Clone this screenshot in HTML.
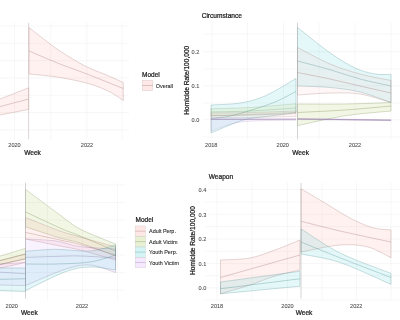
<!DOCTYPE html>
<html><head><meta charset="utf-8"><style>
html,body{margin:0;padding:0;background:#fff;width:400px;height:320px;overflow:hidden}
svg{display:block;font-family:"Liberation Sans",sans-serif}
</style></head><body>
<svg width="400" height="320" viewBox="0 0 400 320">
<rect width="400" height="320" fill="#fff"/>
<g style="filter:blur(0.25px)">
<line x1="0" y1="26" x2="129" y2="26" stroke="#EFEFEF" stroke-width="0.5"/>
<line x1="0" y1="43.3" x2="129" y2="43.3" stroke="#EFEFEF" stroke-width="0.5"/>
<line x1="0" y1="60.6" x2="129" y2="60.6" stroke="#EFEFEF" stroke-width="0.5"/>
<line x1="0" y1="77.9" x2="129" y2="77.9" stroke="#EFEFEF" stroke-width="0.5"/>
<line x1="0" y1="95.3" x2="129" y2="95.3" stroke="#EFEFEF" stroke-width="0.5"/>
<line x1="0" y1="112.6" x2="129" y2="112.6" stroke="#EFEFEF" stroke-width="0.5"/>
<line x1="0" y1="129.9" x2="129" y2="129.9" stroke="#EFEFEF" stroke-width="0.5"/>
<line x1="14.5" y1="22.5" x2="14.5" y2="139.5" stroke="#EFEFEF" stroke-width="0.5"/>
<line x1="50.75" y1="22.5" x2="50.75" y2="139.5" stroke="#EFEFEF" stroke-width="0.5"/>
<line x1="86.8" y1="22.5" x2="86.8" y2="139.5" stroke="#EFEFEF" stroke-width="0.5"/>
<line x1="122" y1="22.5" x2="122" y2="139.5" stroke="#EFEFEF" stroke-width="0.5"/>
<path d="M-2.00,99.80 L28.70,87.80 L28.70,109.40 L-2.00,115.40 Z" fill="#F8766D" fill-opacity="0.1" stroke="#a57774" stroke-opacity="0.45" stroke-width="0.65" stroke-linejoin="round"/>
<path d="M-2.00,107.10 L28.70,99.00" fill="none" stroke="#a57774" stroke-opacity="0.55" stroke-width="0.65"/>
<path d="M29.00,27.50 C31.67,29.58 39.83,36.08 45.00,40.00 C50.17,43.92 53.33,46.67 60.00,51.00 C66.67,55.33 77.00,61.90 85.00,66.00 C93.00,70.10 101.62,72.83 108.00,75.60 C114.38,78.37 120.75,81.43 123.30,82.60 L123.30,100.60 C121.08,99.17 115.55,94.77 110.00,92.00 C104.45,89.23 98.33,86.42 90.00,84.00 C81.67,81.58 70.17,79.17 60.00,77.50 C49.83,75.83 34.17,74.58 29.00,74.00 Z" fill="#F8766D" fill-opacity="0.1" stroke="#a57774" stroke-opacity="0.45" stroke-width="0.65" stroke-linejoin="round"/>
<path d="M29.00,51.00 C34.17,53.17 50.67,60.28 60.00,64.00 C69.33,67.72 74.45,69.22 85.00,73.30 C95.55,77.38 116.92,85.97 123.30,88.50" fill="none" stroke="#a57774" stroke-opacity="0.55" stroke-width="0.65"/>
<line x1="28.6" y1="22.8" x2="28.6" y2="139.2" stroke="#c4b2b2" stroke-width="0.55"/>
<text x="14.5" y="147" font-size="5.6" fill="#4D4D4D" stroke="#4D4D4D" stroke-width="0.08" text-anchor="middle" >2020</text>
<text x="87" y="147" font-size="5.6" fill="#4D4D4D" stroke="#4D4D4D" stroke-width="0.08" text-anchor="middle" >2022</text>
<text x="32.5" y="155" font-size="6.6" fill="#1a1a1a" stroke="#1a1a1a" stroke-width="0.22" text-anchor="middle" >Week</text>
<text x="142" y="77" font-size="6.5" fill="#1a1a1a" stroke="#1a1a1a" stroke-width="0.22" text-anchor="start" >Model</text>
<rect x="142.3" y="80.3" width="10.4" height="10.4" fill="#F8766D" fill-opacity="0.16" stroke="#d0c4c4" stroke-opacity="0.9" stroke-width="0.5"/>
<line x1="142.3" y1="85.5" x2="152.7" y2="85.5" stroke="#a57774" stroke-opacity="0.6" stroke-width="0.6"/>
<text x="155.8" y="88.3" font-size="5.45" fill="#2b2b2b" stroke="#2b2b2b" stroke-width="0.1" text-anchor="start" >Overall</text>
<line x1="203" y1="34" x2="400" y2="34" stroke="#EFEFEF" stroke-width="0.5"/>
<line x1="203" y1="51.7" x2="400" y2="51.7" stroke="#EFEFEF" stroke-width="0.5"/>
<line x1="203" y1="69" x2="400" y2="69" stroke="#EFEFEF" stroke-width="0.5"/>
<line x1="203" y1="85.8" x2="400" y2="85.8" stroke="#EFEFEF" stroke-width="0.5"/>
<line x1="203" y1="103" x2="400" y2="103" stroke="#EFEFEF" stroke-width="0.5"/>
<line x1="203" y1="119.7" x2="400" y2="119.7" stroke="#EFEFEF" stroke-width="0.5"/>
<line x1="203" y1="137" x2="400" y2="137" stroke="#EFEFEF" stroke-width="0.5"/>
<line x1="212" y1="22.5" x2="212" y2="139.5" stroke="#EFEFEF" stroke-width="0.5"/>
<line x1="247.5" y1="22.5" x2="247.5" y2="139.5" stroke="#EFEFEF" stroke-width="0.5"/>
<line x1="283.5" y1="22.5" x2="283.5" y2="139.5" stroke="#EFEFEF" stroke-width="0.5"/>
<line x1="319" y1="22.5" x2="319" y2="139.5" stroke="#EFEFEF" stroke-width="0.5"/>
<line x1="355" y1="22.5" x2="355" y2="139.5" stroke="#EFEFEF" stroke-width="0.5"/>
<line x1="391" y1="22.5" x2="391" y2="139.5" stroke="#EFEFEF" stroke-width="0.5"/>
<path d="M211.00,105.00 C215.83,104.67 231.00,104.50 240.00,103.00 C249.00,101.50 255.67,100.08 265.00,96.00 C274.33,91.92 290.83,81.42 296.00,78.50 L296.00,112.50 C292.50,113.00 283.08,114.42 275.00,115.50 C266.92,116.58 255.00,117.42 247.50,119.00 C240.00,120.58 236.08,122.67 230.00,125.00 C223.92,127.33 214.17,131.67 211.00,133.00 Z" fill="#00BFC4" fill-opacity="0.1" stroke="#4e9193" stroke-opacity="0.45" stroke-width="0.65" stroke-linejoin="round"/>
<path d="M211.00,118.70 C214.17,118.25 223.50,117.37 230.00,116.00 C236.50,114.63 242.50,112.83 250.00,110.50 C257.50,108.17 267.33,105.17 275.00,102.00 C282.67,98.83 292.50,93.25 296.00,91.50" fill="none" stroke="#4e9193" stroke-opacity="0.55" stroke-width="0.65"/>
<path d="M211.00,108.75 C217.50,108.54 235.83,108.33 250.00,107.50 C264.17,106.67 288.33,104.38 296.00,103.75 L296.00,112.50 C288.33,112.83 264.17,113.92 250.00,114.50 C235.83,115.08 217.50,115.75 211.00,116.00 Z" fill="#7CAE00" fill-opacity="0.08" stroke="#798b4e" stroke-opacity="0.32" stroke-width="0.65" stroke-linejoin="round"/>
<path d="M211.00,112.00 C217.50,111.83 235.83,111.67 250.00,111.00 C264.17,110.33 288.33,108.50 296.00,108.00" fill="none" stroke="#798b4e" stroke-opacity="0.4" stroke-width="0.65"/>
<path d="M211.00,113.00 C217.50,112.92 235.83,112.83 250.00,112.50 C264.17,112.17 288.33,111.25 296.00,111.00 L296.00,116.50 C288.33,116.67 264.17,117.25 250.00,117.50 C235.83,117.75 217.50,117.92 211.00,118.00 Z" fill="#F8766D" fill-opacity="0.08" stroke="#a57774" stroke-opacity="0.32" stroke-width="0.65" stroke-linejoin="round"/>
<path d="M211.00,115.50 C217.50,115.42 235.83,115.33 250.00,115.00 C264.17,114.67 288.33,113.75 296.00,113.50" fill="none" stroke="#a57774" stroke-opacity="0.4" stroke-width="0.65"/>
<path d="M211.00,118.00 C217.50,118.10 235.83,118.50 250.00,118.60 C264.17,118.70 288.33,118.60 296.00,118.60 L296.00,120.20 C290.00,120.30 270.17,120.33 260.00,120.80 C249.83,121.27 243.17,121.30 235.00,123.00 C226.83,124.70 215.00,129.67 211.00,131.00 Z" fill="#C77CFF" fill-opacity="0.1" stroke="#9479a7" stroke-opacity="0.25" stroke-width="0.7" stroke-linejoin="round"/>
<path d="M211.00,119.50 L296.00,119.30" fill="none" stroke="#9479a7" stroke-opacity="0.8" stroke-width="0.7"/>
<path d="M297.50,27.50 C302.92,31.72 320.42,46.05 330.00,52.80 C339.58,59.55 347.50,64.47 355.00,68.00 C362.50,71.53 369.00,72.93 375.00,74.00 C381.00,75.07 388.33,74.33 391.00,74.40 L391.00,102.50 C385.83,100.75 370.17,94.50 360.00,92.00 C349.83,89.50 340.42,88.50 330.00,87.50 C319.58,86.50 302.92,86.25 297.50,86.00 Z" fill="#00BFC4" fill-opacity="0.1" stroke="#4e9193" stroke-opacity="0.45" stroke-width="0.65" stroke-linejoin="round"/>
<path d="M297.50,61.00 C302.92,62.45 319.58,66.70 330.00,69.70 C340.42,72.70 349.83,76.28 360.00,79.00 C370.17,81.72 385.83,84.83 391.00,86.00" fill="none" stroke="#4e9193" stroke-opacity="0.55" stroke-width="0.65"/>
<path d="M297.50,47.50 C302.92,50.25 319.58,59.58 330.00,64.00 C340.42,68.42 349.83,71.25 360.00,74.00 C370.17,76.75 385.83,79.42 391.00,80.50 L391.00,102.50 C385.83,101.08 370.17,95.58 360.00,94.00 C349.83,92.42 340.42,92.83 330.00,93.00 C319.58,93.17 302.92,94.67 297.50,95.00 Z" fill="#F8766D" fill-opacity="0.055" stroke="#a57774" stroke-opacity="0.45" stroke-width="0.65" stroke-linejoin="round"/>
<path d="M297.50,72.50 C302.92,73.58 319.58,76.75 330.00,79.00 C340.42,81.25 349.83,83.67 360.00,86.00 C370.17,88.33 385.83,91.83 391.00,93.00" fill="none" stroke="#a57774" stroke-opacity="0.55" stroke-width="0.65"/>
<path d="M297.50,104.00 C305.42,104.00 329.42,104.25 345.00,104.00 C360.58,103.75 383.33,102.75 391.00,102.50 L391.00,111.00 C383.33,111.80 360.58,113.37 345.00,115.80 C329.42,118.23 305.42,123.97 297.50,125.60 Z" fill="#7CAE00" fill-opacity="0.1" stroke="#798b4e" stroke-opacity="0.45" stroke-width="0.65" stroke-linejoin="round"/>
<path d="M297.50,112.50 C305.42,112.08 329.42,111.08 345.00,110.00 C360.58,108.92 383.33,106.67 391.00,106.00" fill="none" stroke="#798b4e" stroke-opacity="0.55" stroke-width="0.65"/>
<path d="M297.50,118.60 L391.00,119.80 L391.00,120.60 L297.50,119.40 Z" fill="#C77CFF" fill-opacity="0.1" stroke="#9479a7" stroke-opacity="0.45" stroke-width="0.7" stroke-linejoin="round"/>
<path d="M297.50,119.00 L391.00,120.20" fill="none" stroke="#9479a7" stroke-opacity="0.8" stroke-width="0.7"/>
<line x1="297.5" y1="22.8" x2="297.5" y2="139.5" stroke="#b0b0b0" stroke-width="0.55"/>
<text x="221.8" y="18" font-size="6.6" fill="#1a1a1a" stroke="#1a1a1a" stroke-width="0.22" text-anchor="middle" >Circumstance</text>
<text x="195.5" y="54" font-size="5.6" fill="#4D4D4D" stroke="#4D4D4D" stroke-width="0.08" text-anchor="middle" >0.2</text>
<text x="195.5" y="87.8" font-size="5.6" fill="#4D4D4D" stroke="#4D4D4D" stroke-width="0.08" text-anchor="middle" >0.1</text>
<text x="195.5" y="122" font-size="5.6" fill="#4D4D4D" stroke="#4D4D4D" stroke-width="0.08" text-anchor="middle" >0.0</text>
<text x="211.25" y="147" font-size="5.6" fill="#4D4D4D" stroke="#4D4D4D" stroke-width="0.08" text-anchor="middle" >2018</text>
<text x="282.75" y="147" font-size="5.6" fill="#4D4D4D" stroke="#4D4D4D" stroke-width="0.08" text-anchor="middle" >2020</text>
<text x="355" y="147" font-size="5.6" fill="#4D4D4D" stroke="#4D4D4D" stroke-width="0.08" text-anchor="middle" >2022</text>
<text x="300.6" y="155" font-size="6.6" fill="#1a1a1a" stroke="#1a1a1a" stroke-width="0.22" text-anchor="middle" >Week</text>
<text x="0" y="0" font-size="6.6" fill="#1a1a1a" stroke="#1a1a1a" stroke-width="0.22" text-anchor="middle" transform="translate(189.1,80.2) rotate(-90)">Homicide Rate/100,000</text>
<line x1="0" y1="185" x2="125" y2="185" stroke="#EFEFEF" stroke-width="0.5"/>
<line x1="0" y1="202.5" x2="125" y2="202.5" stroke="#EFEFEF" stroke-width="0.5"/>
<line x1="0" y1="220" x2="125" y2="220" stroke="#EFEFEF" stroke-width="0.5"/>
<line x1="0" y1="237.5" x2="125" y2="237.5" stroke="#EFEFEF" stroke-width="0.5"/>
<line x1="0" y1="255" x2="125" y2="255" stroke="#EFEFEF" stroke-width="0.5"/>
<line x1="0" y1="272.5" x2="125" y2="272.5" stroke="#EFEFEF" stroke-width="0.5"/>
<line x1="0" y1="290" x2="125" y2="290" stroke="#EFEFEF" stroke-width="0.5"/>
<line x1="11.75" y1="182.5" x2="11.75" y2="300" stroke="#EFEFEF" stroke-width="0.5"/>
<line x1="47.5" y1="182.5" x2="47.5" y2="300" stroke="#EFEFEF" stroke-width="0.5"/>
<line x1="82.5" y1="182.5" x2="82.5" y2="300" stroke="#EFEFEF" stroke-width="0.5"/>
<line x1="117.5" y1="182.5" x2="117.5" y2="300" stroke="#EFEFEF" stroke-width="0.5"/>
<path d="M-2.00,256.70 L25.50,248.40 L25.50,258.75 L-2.00,264.90 Z" fill="#7CAE00" fill-opacity="0.1" stroke="#798b4e" stroke-opacity="0.45" stroke-width="0.65" stroke-linejoin="round"/>
<path d="M-2.00,261.10 L25.50,254.00" fill="none" stroke="#798b4e" stroke-opacity="0.55" stroke-width="0.65"/>
<path d="M-2.00,261.10 L25.50,254.00 L25.50,262.50 L-2.00,268.40 Z" fill="#F8766D" fill-opacity="0.1" stroke="#a57774" stroke-opacity="0.45" stroke-width="0.65" stroke-linejoin="round"/>
<path d="M-2.00,264.90 L25.50,258.75" fill="none" stroke="#a57774" stroke-opacity="0.55" stroke-width="0.65"/>
<path d="M-2.00,264.20 L25.50,262.50 L25.50,285.60 L-2.00,285.00 Z" fill="#C77CFF" fill-opacity="0.1" stroke="#9479a7" stroke-opacity="0.45" stroke-width="0.65" stroke-linejoin="round"/>
<path d="M-2.00,272.00 L25.50,273.75" fill="none" stroke="#9479a7" stroke-opacity="0.55" stroke-width="0.65"/>
<path d="M-2.00,268.00 L25.50,268.00 L25.50,291.50 L-2.00,290.60 Z" fill="#00BFC4" fill-opacity="0.1" stroke="#4e9193" stroke-opacity="0.45" stroke-width="0.65" stroke-linejoin="round"/>
<path d="M-2.00,279.40 L25.50,278.75" fill="none" stroke="#4e9193" stroke-opacity="0.55" stroke-width="0.65"/>
<path d="M25.50,189.40 C31.25,193.67 50.92,208.40 60.00,215.00 C69.08,221.60 70.75,224.17 80.00,229.00 C89.25,233.83 109.58,241.50 115.50,244.00 L115.50,256.00 C109.58,253.83 89.25,246.00 80.00,243.00 C70.75,240.00 69.08,240.70 60.00,238.00 C50.92,235.30 31.25,228.67 25.50,226.80 Z" fill="#7CAE00" fill-opacity="0.1" stroke="#798b4e" stroke-opacity="0.45" stroke-width="0.65" stroke-linejoin="round"/>
<path d="M25.50,211.90 C31.25,214.58 50.92,223.98 60.00,228.00 C69.08,232.02 70.75,232.17 80.00,236.00 C89.25,239.83 109.58,248.50 115.50,251.00" fill="none" stroke="#798b4e" stroke-opacity="0.55" stroke-width="0.65"/>
<path d="M25.50,217.50 C31.25,219.75 50.92,227.75 60.00,231.00 C69.08,234.25 70.75,234.33 80.00,237.00 C89.25,239.67 109.58,245.33 115.50,247.00 L115.50,260.00 C109.58,258.33 89.25,252.33 80.00,250.00 C70.75,247.67 69.08,247.83 60.00,246.00 C50.92,244.17 31.25,240.17 25.50,239.00 Z" fill="#F8766D" fill-opacity="0.1" stroke="#a57774" stroke-opacity="0.45" stroke-width="0.65" stroke-linejoin="round"/>
<path d="M25.50,232.40 C31.25,233.67 50.92,237.98 60.00,240.00 C69.08,242.02 70.75,242.00 80.00,244.50 C89.25,247.00 109.58,253.25 115.50,255.00" fill="none" stroke="#a57774" stroke-opacity="0.55" stroke-width="0.65"/>
<path d="M25.50,239.00 C30.58,239.33 46.92,239.73 56.00,241.00 C65.08,242.27 70.08,245.27 80.00,246.60 C89.92,247.93 109.58,248.60 115.50,249.00 L115.50,272.50 C111.25,271.25 98.42,265.52 90.00,265.00 C81.58,264.48 75.75,265.97 65.00,269.40 C54.25,272.83 32.08,282.90 25.50,285.60 Z" fill="#C77CFF" fill-opacity="0.1" stroke="#9479a7" stroke-opacity="0.45" stroke-width="0.65" stroke-linejoin="round"/>
<path d="M25.50,257.40 C30.58,257.23 46.92,256.63 56.00,256.40 C65.08,256.17 70.08,255.73 80.00,256.00 C89.92,256.27 109.58,257.67 115.50,258.00" fill="none" stroke="#9479a7" stroke-opacity="0.55" stroke-width="0.65"/>
<path d="M25.50,251.30 C30.58,250.97 45.25,249.35 56.00,249.30 C66.75,249.25 80.08,251.72 90.00,251.00 C99.92,250.28 111.25,246.00 115.50,245.00 L115.50,270.00 C111.25,269.50 98.42,266.68 90.00,267.00 C81.58,267.32 75.75,267.97 65.00,271.90 C54.25,275.83 32.08,287.48 25.50,290.60 Z" fill="#00BFC4" fill-opacity="0.1" stroke="#4e9193" stroke-opacity="0.45" stroke-width="0.65" stroke-linejoin="round"/>
<path d="M25.50,264.00 C30.58,264.00 45.25,264.33 56.00,264.00 C66.75,263.67 80.08,263.50 90.00,262.00 C99.92,260.50 111.25,256.17 115.50,255.00" fill="none" stroke="#4e9193" stroke-opacity="0.55" stroke-width="0.65"/>
<line x1="25.5" y1="182.8" x2="25.5" y2="298.6" stroke="#b0b0b0" stroke-width="0.55"/>
<text x="11.75" y="307.5" font-size="5.6" fill="#4D4D4D" stroke="#4D4D4D" stroke-width="0.08" text-anchor="middle" >2020</text>
<text x="82" y="307.5" font-size="5.6" fill="#4D4D4D" stroke="#4D4D4D" stroke-width="0.08" text-anchor="middle" >2022</text>
<text x="29.4" y="315.3" font-size="6.6" fill="#1a1a1a" stroke="#1a1a1a" stroke-width="0.22" text-anchor="middle" >Week</text>
<text x="135.5" y="222.3" font-size="6.5" fill="#1a1a1a" stroke="#1a1a1a" stroke-width="0.22" text-anchor="start" >Model</text>
<rect x="135.2" y="226.00" width="10.3" height="10.45" fill="#F8766D" fill-opacity="0.17" stroke="#d4d4d0" stroke-opacity="0.9" stroke-width="0.5"/>
<line x1="135.2" y1="231.20" x2="145.5" y2="231.20" stroke="#a57774" stroke-opacity="0.6" stroke-width="0.6"/>
<text x="149" y="233.3" font-size="5.45" fill="#2b2b2b" stroke="#2b2b2b" stroke-width="0.1" text-anchor="start" >Adult Perp.</text>
<rect x="135.2" y="236.45" width="10.3" height="10.45" fill="#7CAE00" fill-opacity="0.17" stroke="#d4d4d0" stroke-opacity="0.9" stroke-width="0.5"/>
<line x1="135.2" y1="241.65" x2="145.5" y2="241.65" stroke="#798b4e" stroke-opacity="0.6" stroke-width="0.6"/>
<text x="149" y="243.75" font-size="5.45" fill="#2b2b2b" stroke="#2b2b2b" stroke-width="0.1" text-anchor="start" >Adult Victim</text>
<rect x="135.2" y="246.90" width="10.3" height="10.45" fill="#00BFC4" fill-opacity="0.17" stroke="#d4d4d0" stroke-opacity="0.9" stroke-width="0.5"/>
<line x1="135.2" y1="252.10" x2="145.5" y2="252.10" stroke="#4e9193" stroke-opacity="0.6" stroke-width="0.6"/>
<text x="149" y="254.20000000000002" font-size="5.45" fill="#2b2b2b" stroke="#2b2b2b" stroke-width="0.1" text-anchor="start" >Youth Perp.</text>
<rect x="135.2" y="257.35" width="10.3" height="10.45" fill="#C77CFF" fill-opacity="0.17" stroke="#d4d4d0" stroke-opacity="0.9" stroke-width="0.5"/>
<line x1="135.2" y1="262.55" x2="145.5" y2="262.55" stroke="#9479a7" stroke-opacity="0.6" stroke-width="0.6"/>
<text x="149" y="264.65000000000003" font-size="5.45" fill="#2b2b2b" stroke="#2b2b2b" stroke-width="0.1" text-anchor="start" >Youth Victim</text>
<line x1="205" y1="189.5" x2="400" y2="189.5" stroke="#EFEFEF" stroke-width="0.5"/>
<line x1="205" y1="202" x2="400" y2="202" stroke="#EFEFEF" stroke-width="0.5"/>
<line x1="205" y1="214.3" x2="400" y2="214.3" stroke="#EFEFEF" stroke-width="0.5"/>
<line x1="205" y1="226.6" x2="400" y2="226.6" stroke="#EFEFEF" stroke-width="0.5"/>
<line x1="205" y1="239" x2="400" y2="239" stroke="#EFEFEF" stroke-width="0.5"/>
<line x1="205" y1="251.3" x2="400" y2="251.3" stroke="#EFEFEF" stroke-width="0.5"/>
<line x1="205" y1="263.6" x2="400" y2="263.6" stroke="#EFEFEF" stroke-width="0.5"/>
<line x1="205" y1="275.7" x2="400" y2="275.7" stroke="#EFEFEF" stroke-width="0.5"/>
<line x1="205" y1="287.8" x2="400" y2="287.8" stroke="#EFEFEF" stroke-width="0.5"/>
<line x1="205" y1="300" x2="400" y2="300" stroke="#EFEFEF" stroke-width="0.5"/>
<line x1="217" y1="182.5" x2="217" y2="300" stroke="#EFEFEF" stroke-width="0.5"/>
<line x1="252" y1="182.5" x2="252" y2="300" stroke="#EFEFEF" stroke-width="0.5"/>
<line x1="287.5" y1="182.5" x2="287.5" y2="300" stroke="#EFEFEF" stroke-width="0.5"/>
<line x1="322" y1="182.5" x2="322" y2="300" stroke="#EFEFEF" stroke-width="0.5"/>
<line x1="356.5" y1="182.5" x2="356.5" y2="300" stroke="#EFEFEF" stroke-width="0.5"/>
<line x1="391" y1="182.5" x2="391" y2="300" stroke="#EFEFEF" stroke-width="0.5"/>
<path d="M220.50,260.00 C225.42,259.67 240.92,259.67 250.00,258.00 C259.08,256.33 266.67,253.00 275.00,250.00 C283.33,247.00 295.83,241.67 300.00,240.00 L300.00,270.00 C295.83,271.00 283.33,273.50 275.00,276.00 C266.67,278.50 259.08,282.04 250.00,285.00 C240.92,287.96 225.42,292.29 220.50,293.75 Z" fill="#F8766D" fill-opacity="0.1" stroke="#a57774" stroke-opacity="0.45" stroke-width="0.65" stroke-linejoin="round"/>
<path d="M220.50,277.50 L300.00,255.00" fill="none" stroke="#a57774" stroke-opacity="0.55" stroke-width="0.65"/>
<path d="M220.50,282.00 L300.00,271.25 L300.00,286.25 L220.50,293.75 Z" fill="#00BFC4" fill-opacity="0.1" stroke="#4e9193" stroke-opacity="0.45" stroke-width="0.65" stroke-linejoin="round"/>
<path d="M220.50,288.75 L300.00,278.75" fill="none" stroke="#4e9193" stroke-opacity="0.55" stroke-width="0.65"/>
<path d="M301.00,188.75 C305.00,191.12 316.83,198.12 325.00,203.00 C333.17,207.88 342.17,213.92 350.00,218.00 C357.83,222.08 365.17,225.50 372.00,227.50 C378.83,229.50 387.83,229.58 391.00,230.00 L391.00,257.80 C387.17,256.00 376.50,249.13 368.00,247.00 C359.50,244.87 351.17,244.17 340.00,245.00 C328.83,245.83 307.50,250.83 301.00,252.00 Z" fill="#F8766D" fill-opacity="0.1" stroke="#a57774" stroke-opacity="0.45" stroke-width="0.65" stroke-linejoin="round"/>
<path d="M301.00,221.25 C307.50,222.88 325.00,227.54 340.00,231.00 C355.00,234.46 382.50,240.17 391.00,242.00" fill="none" stroke="#a57774" stroke-opacity="0.55" stroke-width="0.65"/>
<path d="M301.00,228.75 C307.50,232.79 325.00,245.56 340.00,253.00 C355.00,260.44 382.50,270.00 391.00,273.40 L391.00,284.40 C382.50,280.75 355.00,267.57 340.00,262.50 C325.00,257.43 307.50,255.42 301.00,254.00 Z" fill="#00BFC4" fill-opacity="0.1" stroke="#4e9193" stroke-opacity="0.45" stroke-width="0.65" stroke-linejoin="round"/>
<path d="M301.00,242.00 C307.50,244.63 325.00,251.88 340.00,257.80 C355.00,263.72 382.50,274.22 391.00,277.50" fill="none" stroke="#4e9193" stroke-opacity="0.55" stroke-width="0.65"/>
<line x1="301" y1="183" x2="301" y2="298.6" stroke="#b0b0b0" stroke-width="0.55"/>
<text x="221" y="179" font-size="6.6" fill="#1a1a1a" stroke="#1a1a1a" stroke-width="0.22" text-anchor="middle" >Weapon</text>
<text x="202.5" y="191.6" font-size="5.6" fill="#4D4D4D" stroke="#4D4D4D" stroke-width="0.08" text-anchor="middle" >0.4</text>
<text x="202.5" y="216.5" font-size="5.6" fill="#4D4D4D" stroke="#4D4D4D" stroke-width="0.08" text-anchor="middle" >0.3</text>
<text x="202.5" y="241.2" font-size="5.6" fill="#4D4D4D" stroke="#4D4D4D" stroke-width="0.08" text-anchor="middle" >0.2</text>
<text x="202.5" y="265.8" font-size="5.6" fill="#4D4D4D" stroke="#4D4D4D" stroke-width="0.08" text-anchor="middle" >0.1</text>
<text x="202.5" y="290" font-size="5.6" fill="#4D4D4D" stroke="#4D4D4D" stroke-width="0.08" text-anchor="middle" >0.0</text>
<text x="217" y="307.5" font-size="5.6" fill="#4D4D4D" stroke="#4D4D4D" stroke-width="0.08" text-anchor="middle" >2018</text>
<text x="287.5" y="307.5" font-size="5.6" fill="#4D4D4D" stroke="#4D4D4D" stroke-width="0.08" text-anchor="middle" >2020</text>
<text x="356.25" y="307.5" font-size="5.6" fill="#4D4D4D" stroke="#4D4D4D" stroke-width="0.08" text-anchor="middle" >2022</text>
<text x="304" y="315.3" font-size="6.6" fill="#1a1a1a" stroke="#1a1a1a" stroke-width="0.22" text-anchor="middle" >Week</text>
<text x="0" y="0" font-size="6.6" fill="#1a1a1a" stroke="#1a1a1a" stroke-width="0.22" text-anchor="middle" transform="translate(195,240.5) rotate(-90)">Homicide Rate/100,000</text>
</g>
</svg>
</body></html>
